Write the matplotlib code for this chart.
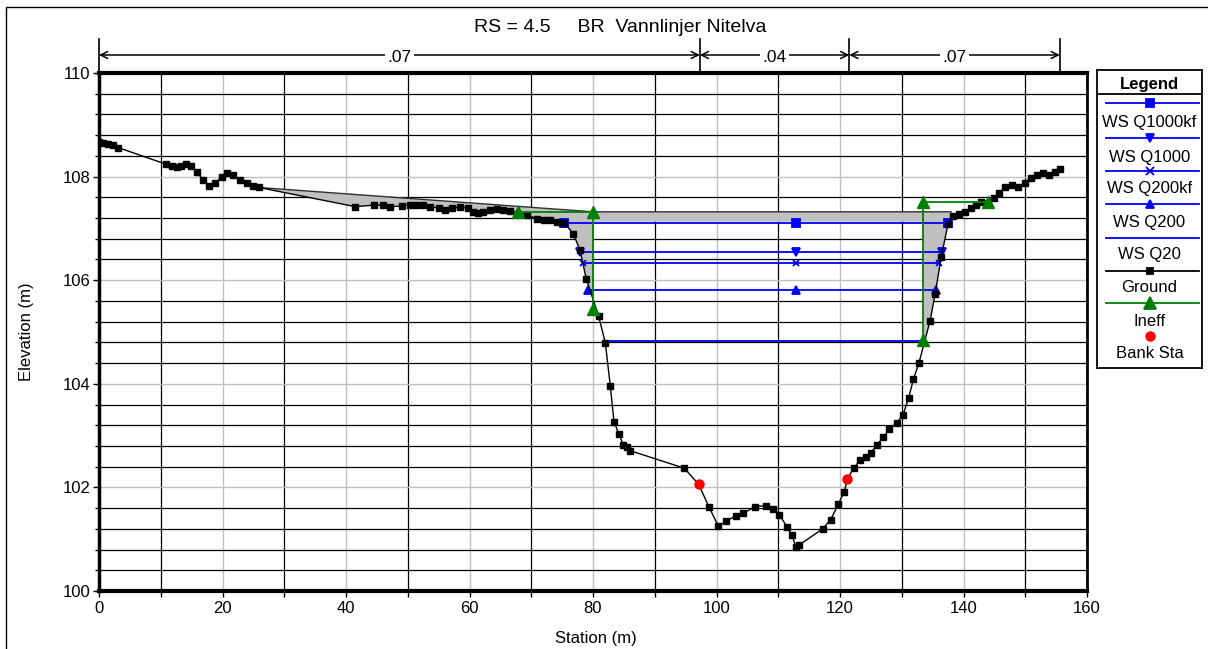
import numpy as np
import matplotlib
matplotlib.use('Agg')
import matplotlib.pyplot as plt
from matplotlib.ticker import MultipleLocator
from matplotlib.patches import Rectangle, Polygon
import matplotlib.transforms as mtransforms

plt.rcParams['font.family'] = ['Liberation Sans', 'DejaVu Sans']

# ---------------- data ----------------
ground_sta = [0.0, 0.7, 1.5, 2.2, 3.1,
              10.85, 11.8, 12.7, 13.2, 14.1, 14.85, 15.9, 16.9, 17.8, 18.8, 19.9, 20.8, 21.75, 22.9, 23.9, 25.0, 25.9,
              41.5, 44.5, 46.0, 47.2, 49.0, 50.4, 51.4, 52.5, 53.6, 55.0, 56.0, 57.1, 58.5, 59.8, 60.6, 61.4, 62.2,
              63.3, 64.4, 65.5, 66.5,
              69.3, 70.9, 72.0, 73.0, 74.1, 75.3, 76.8, 77.9, 78.9, 80.9, 82.0, 82.8, 83.4, 84.2, 84.9, 85.5, 86.0,
              94.8, 97.1, 98.8, 100.3, 101.6, 103.1, 104.3, 106.3, 108.0, 109.2, 110.2, 111.4, 112.2, 112.9, 113.4,
              117.2, 118.5, 119.7, 120.7, 121.2, 122.2, 123.2, 124.2, 125.0, 126.0, 127.0, 128.0, 129.2, 130.2,
              131.1, 131.9, 132.8, 134.6, 135.4, 136.4, 137.5, 138.3, 139.3, 140.2, 141.2, 142.1, 142.9, 145.0,
              145.8, 146.7, 147.8, 148.9, 150.0, 150.9, 151.9, 152.9, 153.9, 154.8, 155.6]
ground_elev = [108.67, 108.65, 108.63, 108.61, 108.56,
               108.24, 108.20, 108.19, 108.20, 108.24, 108.20, 108.08, 107.93, 107.82, 107.87, 108.00, 108.06, 108.03,
               107.93, 107.87, 107.82, 107.79,
               107.42, 107.45, 107.45, 107.42, 107.43, 107.46, 107.45, 107.46, 107.42, 107.39, 107.36, 107.39, 107.41,
               107.39, 107.32, 107.29, 107.32, 107.36, 107.37, 107.36, 107.34,
               107.26, 107.19, 107.16, 107.17, 107.13, 107.11, 106.90, 106.58, 106.03, 105.31, 104.79, 103.96, 103.27,
               103.03, 102.82, 102.78, 102.71,
               102.37, 102.06, 101.62, 101.25, 101.35, 101.45, 101.50, 101.63, 101.65, 101.59, 101.47, 101.24, 101.08,
               100.84, 100.89, 101.20, 101.38, 101.67, 101.92, 102.16, 102.37, 102.52, 102.58, 102.67, 102.82, 102.97,
               103.12, 103.25, 103.40, 103.72, 104.09, 104.41, 105.22, 105.73, 106.45, 107.09, 107.24, 107.28, 107.32,
               107.39, 107.45, 107.50, 107.59, 107.69, 107.79, 107.83, 107.79, 107.88, 107.98, 108.03, 108.06, 108.03,
               108.09, 108.14]

bank_sta = [97.1, 121.2]
bank_elev = [102.06, 102.16]

n_bounds = [0.0, 97.3, 121.5, 155.6]
n_labels = ['.07', '.04', '.07']

ws_names = ['WS Q1000kf', 'WS Q1000', 'WS Q200kf', 'WS Q200', 'WS Q20']
ws_elev = [107.11, 106.54, 106.34, 105.81, 104.83]
ws_left = [75.3, 77.9, 78.3, 79.2, 81.9]
ws_right = [137.5, 136.5, 136.1, 135.5, 133.5]
ws_mid = 112.9
ws_markers = ['s', 'v', 'x', '^', None]

ineff_left_sta = [67.8, 80.0, 80.0]
ineff_left_elev = [107.31, 107.31, 105.44]
ineff_right_sta = [143.9, 133.5, 133.5]
ineff_right_elev = [107.50, 107.50, 104.85]

deck_sta = [25.9, 80.0, 138.0]
deck_high = [107.79, 107.32, 107.32]
low_chord = 107.13
abut_sta = [80.0, 133.5]

# ---------------- figure ----------------
W, H = 1208, 649
fig = plt.figure(figsize=(W / 100, H / 100), dpi=100)
ax = fig.add_axes([99 / W, 1 - 591 / H, 988 / W, 518 / H])
ax.set_xlim(0, 160)
ax.set_ylim(100, 110)

ax.xaxis.set_major_locator(MultipleLocator(20))
ax.xaxis.set_minor_locator(MultipleLocator(10))
ax.yaxis.set_major_locator(MultipleLocator(2))
ax.yaxis.set_minor_locator(MultipleLocator(0.4))
ax.set_axisbelow(True)
ax.grid(which='major', color='#c0c0c0', lw=1.0)
ax.grid(which='minor', color='black', lw=0.9)
ax.tick_params(which='both', direction='out', width=1, labelsize=12)
ax.tick_params(axis='x', which='both', length=4, pad=3)
ax.tick_params(axis='y', which='major', length=4, pad=2)
ax.tick_params(axis='y', which='minor', length=3)
for s, lw in (('top', 3), ('bottom', 3), ('left', 2.5), ('right', 2)):
    ax.spines[s].set_linewidth(lw)

gs = np.array(ground_sta)
ge = np.array(ground_elev)

# bridge deck / abutment fill
g_right = np.interp(deck_sta[-1], gs, ge)
g_ab_r = np.interp(abut_sta[1], gs, ge)
g_ab_l = np.interp(abut_sta[0], gs, ge)
poly = [(deck_sta[0], deck_high[0]), (deck_sta[1], deck_high[1]), (deck_sta[2], deck_high[2]),
        (deck_sta[2], g_right)]
m = (gs < deck_sta[2]) & (gs > abut_sta[1])
poly += list(zip(gs[m][::-1], ge[m][::-1]))
poly += [(abut_sta[1], g_ab_r), (abut_sta[1], low_chord), (abut_sta[0], low_chord), (abut_sta[0], g_ab_l)]
m = (gs < abut_sta[0]) & (gs > deck_sta[0])
poly += list(zip(gs[m][::-1], ge[m][::-1]))
ax.add_patch(Polygon(poly, closed=True, fc='#c0c0c0', ec='none', zorder=2))
ax.plot(deck_sta, deck_high, color='#303030', lw=1.0, zorder=2.5)

# water surfaces
for name, el, xl, xr, mk in zip(ws_names, ws_elev, ws_left, ws_right, ws_markers):
    if mk is None:
        ax.plot([xl, xr], [el, el], color='#0000ff', lw=1.3, zorder=3)
    else:
        ax.plot([xl, ws_mid, xr], [el, el, el], color='#0000ff', lw=1.3, marker=mk,
                ms=5.5 if mk != 'x' else 5, mew=1.3, zorder=3)

# ground
ax.plot(gs, ge, color='black', lw=1.0, marker='s', ms=4.3, zorder=4)

# ineffective areas
for xs, ys in ((ineff_left_sta, ineff_left_elev), (ineff_right_sta, ineff_right_elev)):
    ax.plot(xs, ys, color='#008000', lw=1.3, marker='^', ms=8, zorder=5)

# bank stations
ax.plot(bank_sta, bank_elev, ls='none', marker='o', color='red', ms=6.5, zorder=6)

# Manning's n header
trans = mtransforms.blended_transform_factory(ax.transData, ax.transAxes)
y_arrow = (591 - 55) / 518
y_top = (591 - 39) / 518
for b in n_bounds:
    ax.plot([b, b], [1.0, y_top], transform=trans, color='black', lw=1.2, clip_on=False)
for i, lab in enumerate(n_labels):
    x0, x1 = n_bounds[i], n_bounds[i + 1]
    ax.annotate('', xy=(x1, y_arrow), xytext=(x0, y_arrow), xycoords=trans, textcoords=trans,
                arrowprops=dict(arrowstyle='<->,head_length=0.5,head_width=0.25', lw=1.1,
                                color='black', shrinkA=0, shrinkB=0), annotation_clip=False)
    ax.text((x0 + x1) / 2, y_arrow - 2 / 518, lab, transform=trans, ha='center', va='center', fontsize=12.5,
            bbox=dict(fc='white', ec='none', pad=1.5), clip_on=False)

# title and axis labels
fig.text(620 / W, 1 - 27 / H, 'RS = 4.5     BR  Vannlinjer Nitelva', ha='center', va='center', fontsize=14)
fig.text(596 / W, 1 - 639 / H, 'Station (m)', ha='center', va='center', fontsize=12)
fig.text(27 / W, 1 - 332 / H, 'Elevation (m)', ha='center', va='center', rotation=90, fontsize=12)

# figure border
fig.add_artist(Rectangle((6 / W, -0.05), 1.1, 1 - 7 / H + 0.05, transform=fig.transFigure,
                         fill=False, ec='black', lw=1.0))

# legend box
lx0, ly0, lw_, lh_ = 1097, 70, 105, 298
lax = fig.add_axes([lx0 / W, 1 - (ly0 + lh_) / H, lw_ / W, lh_ / H])
lax.set_xlim(0, lw_)
lax.set_ylim(lh_, 0)
lax.set_xticks([])
lax.set_yticks([])
for s in lax.spines.values():
    s.set_linewidth(1.3)
lax.text(lw_ / 2, 14, 'Legend', ha='center', va='center', fontsize=12, fontweight='bold')
lax.plot([0, lw_], [24, 24], color='black', lw=1.3)
lx = [9, lw_ / 2, 102]
entries = [
    ('WS Q1000kf', '#0000ff', 's', 33, 52),
    ('WS Q1000', '#0000ff', 'v', 68, 87),
    ('WS Q200kf', '#0000ff', 'x', 101, 118),
    ('WS Q200', '#0000ff', '^', 134, 152),
    ('WS Q20', '#0000ff', None, 168, 184),
    ('Ground', 'black', 's', 201, 217),
    ('Ineff', '#008000', '^', 233, 251),
]
for lab, col, mk, yl, yt in entries:
    lax.plot([lx[0], lx[2]], [yl, yl], color=col, lw=1.3)
    if mk is not None:
        ms = 8 if lab == 'Ineff' else (4.3 if lab == 'Ground' else 5.5)
        lax.plot([lx[1]], [yl], color=col, marker=mk, ms=ms, mew=1.3)
    lax.text(lw_ / 2, yt, lab, ha='center', va='center', fontsize=12)
lax.plot([lw_ / 2], [266], ls='none', marker='o', color='red', ms=6.5)
lax.text(lw_ / 2, 283, 'Bank Sta', ha='center', va='center', fontsize=12)

fig.savefig('out.png', dpi=100)
